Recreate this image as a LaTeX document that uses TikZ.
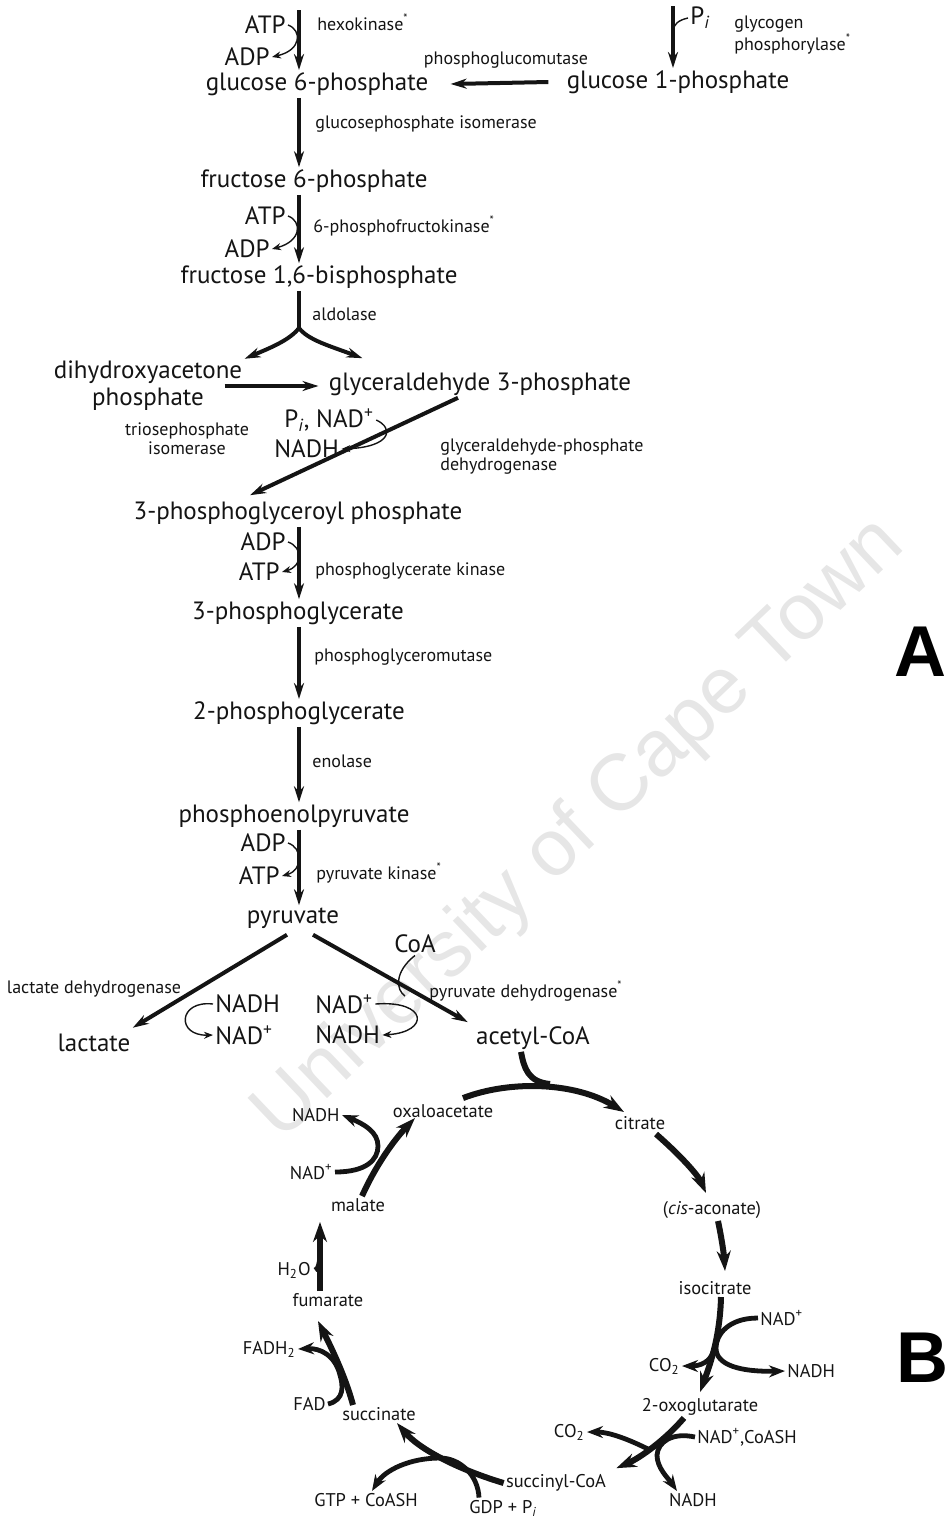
\documentclass[tikz,border=0pt]{standalone}
\usepackage{fontspec}
\setmainfont{PT Sans}
\newfontfamily\markfont{Liberation Sans}
\usetikzlibrary{arrows.meta, positioning, calc}
\definecolor{inkblack}{HTML}{141414}
\definecolor{markgrey}{HTML}{E6E6E6}

\begin{document}
\begin{tikzpicture}[x=0.5pt, y=-0.5pt,
    met/.style={font=\fontsize{12.5}{13.5}\selectfont, inner sep=1pt, text=inkblack},
    enz/.style={font=\fontsize{9}{9.5}\selectfont, inner sep=1pt, text=inkblack},
    tca/.style={font=\fontsize{9.2}{9.5}\selectfont, inner sep=1pt, text=inkblack},
    fwd/.style={draw=inkblack, line width=2pt, -{Stealth[length=8pt, width=5pt]}},
    cof/.style={draw=inkblack, line width=0.7pt, -{Stealth[length=4.5pt, width=3.5pt]}},
    cyc/.style={draw=inkblack, line width=3pt, -{Stealth[length=10pt, width=7pt]}},
    cycside/.style={draw=inkblack, line width=2.4pt, -{Stealth[length=8pt, width=6pt]}}]
  \useasboundingbox (0,0) rectangle (950,1523);

  \node[rotate=43.6, text=markgrey, font=\markfont\fontsize{40}{40}\selectfont] (mark) at (580,830) {University of Cape Town};

  \node[met] (g6p) at (317,84) {glucose 6-phosphate};
  \node[met] (g1p) at (678,82) {glucose 1-phosphate};
  \node[met] (f6p) at (314,181) {fructose 6-phosphate};
  \node[met] (f16bp) at (319,277) {fructose 1,6-bisphosphate};
  \node[met, align=center] (dhap) at (148,386) {dihydroxyacetone\\phosphate};
  \node[met] (gap) at (480,384) {glyceraldehyde 3-phosphate};
  \node[met] (bpg) at (298,513) {3-phosphoglyceroyl phosphate};
  \node[met] (pg3) at (298,613) {3-phosphoglycerate};
  \node[met] (pg2) at (299,713) {2-phosphoglycerate};
  \node[met] (pep) at (294,816) {phosphoenolpyruvate};
  \node[met] (pyr) at (293,918) {pyruvate};
  \node[met] (lac) at (94,1043) {lactate};
  \node[met] (acoa) at (533,1038) {acetyl-CoA};

  \node[met, anchor=east] (atp1) at (288,25) {ATP};
  \node[met, anchor=east] (adp1) at (272,57) {ADP};
  \node[met, anchor=west] (pi1) at (688,18) {P\textsubscript{\itshape i}};
  \node[met, anchor=east] (atp2) at (288,216) {ATP};
  \node[met, anchor=east] (adp2) at (272,249) {ADP};
  \node[met, anchor=west] (pinad) at (282,420) {P\textsubscript{\itshape i}, NAD\textsuperscript{+}};
  \node[met, anchor=west] (nadh1) at (272,449) {NADH};
  \node[met, anchor=east] (adp3) at (288,542) {ADP};
  \node[met, anchor=east] (atp3) at (282,572) {ATP};
  \node[met, anchor=east] (adp4) at (288,843) {ADP};
  \node[met, anchor=east] (atp4) at (282,876) {ATP};
  \node[met, anchor=west] (nadh2) at (213,1004) {NADH};
  \node[met, anchor=west] (nad2) at (213,1035) {NAD\textsuperscript{+}};
  \node[met, anchor=west] (nad3) at (313,1004) {NAD\textsuperscript{+}};
  \node[met, anchor=west] (nadh3) at (313,1035) {NADH};
  \node[met] (coa) at (415,944) {CoA};

  \node[enz, anchor=west] (hk) at (315,22) {hexokinase\textsuperscript{*}};
  \node[enz, anchor=west, align=left] (gp) at (732,35) {glycogen\\phosphorylase\textsuperscript{*}};
  \node[enz] (pgm) at (506,60) {phosphoglucomutase};
  \node[enz, anchor=west] (gpi) at (313,124) {glucosephosphate isomerase};
  \node[enz, anchor=west] (pfk) at (311,226) {6-phosphofructokinase\textsuperscript{*}};
  \node[enz, anchor=west] (ald) at (310,314) {aldolase};
  \node[enz, align=center] (tpi) at (187,439) {triosephosphate\\isomerase};
  \node[enz, anchor=west, align=left] (gapdh) at (438,457) {glyceraldehyde-phosphate\\dehydrogenase};
  \node[enz, anchor=west] (pgk) at (313,571) {phosphoglycerate kinase};
  \node[enz, anchor=west] (pgam) at (312,657) {phosphoglyceromutase};
  \node[enz, anchor=west] (eno) at (310,761) {enolase};
  \node[enz, anchor=west] (pk) at (314,873) {pyruvate kinase\textsuperscript{*}};
  \node[enz] (ldh) at (94,989) {lactate dehydrogenase};
  \node[enz, anchor=west] (pdh) at (427,991) {pyruvate dehydrogenase\textsuperscript{*}};

  \node[tca] (oaa) at (443,1111) {oxaloacetate};
  \node[tca] (cit) at (640,1123) {citrate};
  \node[tca] (cis) at (712,1210) {(\textit{cis}-aconate)};
  \node[tca] (icit) at (715,1288) {isocitrate};
  \node[tca] (oxg) at (700,1407) {2-oxoglutarate};
  \node[tca] (sca) at (556,1483) {succinyl-CoA};
  \node[tca] (suc) at (379,1414) {succinate};
  \node[tca] (fum) at (328,1300) {fumarate};
  \node[tca] (mal) at (358,1205) {malate};

  \node[tca, anchor=west] (nad5) at (758,1318) {NAD\textsuperscript{+}};
  \node[tca, anchor=west] (nadh5) at (785,1371) {NADH};
  \node[tca, anchor=east] (co2a) at (682,1366) {CO\textsubscript{2}};
  \node[tca, anchor=west] (nad6) at (695,1437) {NAD\textsuperscript{+},CoASH};
  \node[tca] (nadh6) at (693,1500) {NADH};
  \node[tca, anchor=east] (co2b) at (587,1432) {CO\textsubscript{2}};
  \node[tca] (gtp) at (366,1500) {GTP + CoASH};
  \node[tca] (gdp) at (503,1508) {GDP + P\textsubscript{\itshape i}};
  \node[tca, anchor=east] (fad) at (328,1404) {FAD};
  \node[tca, anchor=east] (fadh) at (298,1349) {FADH\textsubscript{2}};
  \node[tca, anchor=east] (h2o) at (313,1270) {H\textsubscript{2}O};
  \node[tca, anchor=east] (nad7) at (335,1172) {NAD\textsuperscript{+}};
  \node[tca, anchor=east] (nadh7) at (342,1115) {NADH};

  \node[font=\markfont\bfseries\fontsize{36}{36}\selectfont] (partA) at (920,652) {A};
  \node[font=\markfont\bfseries\fontsize{36}{36}\selectfont] (partB) at (922,1358) {B};

  \coordinate (spine) at (299,0);
  \coordinate (glc) at (299,10);
  \coordinate (glyc) at (673,6);
  \coordinate (pijoin) at (673,32);
  \coordinate (split) at (299,328);
  \coordinate (pdhjoin) at (405,996);
  \coordinate (acjoin) at (550,1084);
  \coordinate (j1) at (713,1352);
  \coordinate (j2) at (650,1450);

  \draw[fwd] (glc) -- (g6p.north -| spine);
  \draw[cof] (atp1.east) .. controls (302,30) and (302,50) .. (adp1.east);
  \draw[fwd] (glyc) -- (g1p.north -| glyc);
  \draw[draw=inkblack, line width=0.7pt] (pi1.west) .. controls (679,20) and (673,24) .. (pijoin);
  \draw[fwd] ([xshift=-8pt]g1p.west) -- ([xshift=10pt]g6p.east);
  \draw[fwd] (g6p.south -| spine) -- (f6p.north -| spine);
  \draw[fwd] (f6p.south -| spine) -- (f16bp.north -| spine);
  \draw[cof] (atp2.east) .. controls (302,221) and (302,241) .. (adp2.east);
  \draw[draw=inkblack, line width=2pt] (f16bp.south -| spine) -- (split);
  \draw[fwd] (split) .. controls (290,340) and (270,348) .. (dhap.north east);
  \draw[fwd] (split) .. controls (308,340) and (330,346) .. ([xshift=18pt,yshift=6pt]gap.north west);
  \draw[fwd] ([xshift=-10pt]dhap.east) -- ([xshift=-4pt]gap.west |- dhap.east);
  \draw[fwd] ([xshift=-11pt]gap.south) -- ([xshift=-24pt,yshift=2pt]bpg.north);
  \draw[cof] (pinad.east) .. controls (394,428) and (392,447) .. (nadh1.east);
  \draw[fwd] (bpg.south -| spine) -- (pg3.north -| spine);
  \draw[cof] (adp3.east) .. controls (303,547) and (303,566) .. (atp3.east);
  \draw[fwd] (pg3.south -| spine) -- (pg2.north -| spine);
  \draw[fwd] (pg2.south -| spine) -- (pep.north -| spine);
  \draw[fwd] (pep.south -| spine) -- (pyr.north -| spine);
  \draw[cof] (adp4.east) .. controls (303,848) and (303,870) .. (atp4.east);
  \draw[fwd] ([xshift=-3pt,yshift=-2pt]pyr.south) -- ([yshift=2pt]lac.north east);
  \draw[cof] (nadh2.west) .. controls (178,1000) and (176,1036) .. (nad2.west);
  \draw[fwd] ([xshift=10pt,yshift=-2pt]pyr.south) -- ([xshift=-3pt,yshift=1pt]acoa.north west);
  \draw[draw=inkblack, line width=0.7pt] (coa.south) .. controls (394,972) and (396,990) .. (pdhjoin);
  \draw[cof] (nad3.east) .. controls (428,1000) and (430,1032) .. (nadh3.east);

  \draw[cyc] ([xshift=10pt,yshift=2pt]oaa.north) .. controls (510,1080) and (575,1082) .. ([xshift=-8pt,yshift=1pt]cit.north);
  \draw[draw=inkblack, line width=3pt] ([xshift=-6pt]acoa.south) .. controls (524,1068) and (528,1082) .. (acjoin);
  \draw[cyc] ([xshift=8pt,yshift=-1pt]cit.south) .. controls (680,1155) and (698,1175) .. ([xshift=-3pt,yshift=3pt]cis.north);
  \draw[cyc] ([xshift=3pt]cis.south) .. controls (722,1240) and (724,1255) .. ([xshift=5pt,yshift=4pt]icit.north);
  \draw[cyc] ([xshift=3pt]icit.south) .. controls (720,1340) and (708,1370) .. ([yshift=2pt]oxg.north);
  \draw[cycside] (nad5.west) .. controls (728,1318) and (716,1335) .. (716,1348) .. controls (716,1365) and (740,1372) .. (nadh5.west);
  \draw[cycside] (j1) .. controls (710,1362) and (700,1366) .. (co2a.east);
  \draw[cyc] ([xshift=-8pt]oxg.south) .. controls (665,1440) and (640,1458) .. ([xshift=4pt,yshift=2pt]sca.north east);
  \draw[cycside] (nad6.west) .. controls (672,1432) and (658,1442) .. (657,1455) .. controls (657,1468) and (668,1478) .. ([xshift=-8pt]nadh6.north);
  \draw[cycside] (j2) .. controls (630,1440) and (610,1432) .. (co2b.east);
  \draw[cyc] (sca.west) .. controls (460,1470) and (420,1450) .. ([xshift=9pt]suc.south);
  \draw[cycside] ([xshift=-12pt]gdp.north) .. controls (478,1475) and (460,1458) .. (440,1458) .. controls (410,1458) and (385,1470) .. ([xshift=3pt]gtp.north);
  \draw[cyc] ([xshift=-13pt]suc.north) .. controls (345,1375) and (330,1345) .. ([xshift=-5pt,yshift=-6pt]fum.south);
  \draw[cycside] (fad.east) .. controls (345,1400) and (343,1385) .. (340,1375) .. controls (335,1355) and (320,1348) .. (fadh.east);
  \draw[cyc] ([xshift=-4pt]fum.north) -- ([xshift=-19pt,yshift=-4pt]mal.south);
  \draw[draw=inkblack, line width=2.4pt] ([xshift=1pt]h2o.east) .. controls (318,1270) and (320,1262) .. (320,1252);
  \draw[cyc] ([xshift=2pt]mal.north) .. controls (376,1165) and (394,1140) .. ([xshift=-14pt,yshift=1pt]oaa.south);
  \draw[cycside] (nad7.east) .. controls (366,1172) and (378,1160) .. (378,1146) .. controls (378,1132) and (364,1124) .. (nadh7.east);
\end{tikzpicture}
\end{document}
